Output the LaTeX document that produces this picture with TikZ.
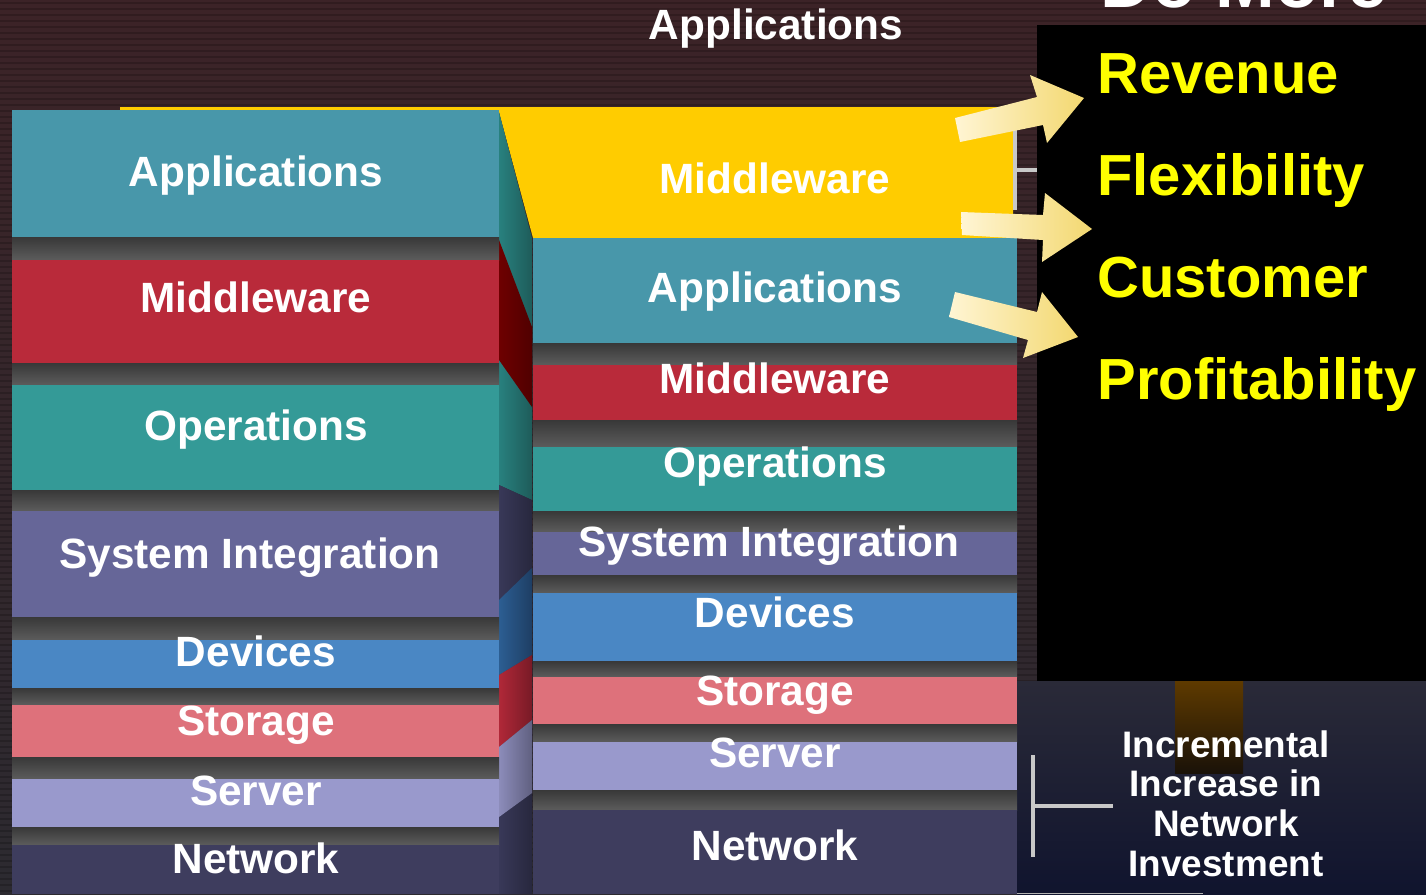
\documentclass[tikz,border=0pt]{standalone}
\usepackage{fontspec}
\setmainfont{Liberation Sans}
\definecolor{bgtop}{HTML}{3C2327}
\definecolor{bgbot}{HTML}{2C2A30}
\definecolor{appc}{HTML}{4897AA}
\definecolor{midc}{HTML}{B92A3A}
\definecolor{opc}{HTML}{349A97}
\definecolor{sic}{HTML}{666698}
\definecolor{devc}{HTML}{4A87C4}
\definecolor{stoc}{HTML}{DE717B}
\definecolor{serc}{HTML}{9999CC}
\definecolor{netc}{HTML}{3E3D5E}
\definecolor{yelc}{HTML}{FFCC00}
\definecolor{gapc}{HTML}{5C5C5C}
\definecolor{gaptop}{HTML}{383838}
\definecolor{navytop}{HTML}{2A2A38}
\definecolor{navybot}{HTML}{10142E}
\definecolor{txtyel}{HTML}{FFFF00}
\definecolor{arrowpale}{HTML}{FFF5D4}
\definecolor{arrowdeep}{HTML}{F3D870}
\definecolor{bracketc}{HTML}{C8C8C8}
\tikzset{
  lbl/.style={text=white, font=\bfseries\fontsize{24.1}{26}\selectfont, inner sep=0pt, anchor=base},
  ylbl/.style={text=txtyel, font=\bfseries\fontsize{33}{36}\selectfont, inner sep=0pt, anchor=base west},
  gapband/.style={top color=gaptop, bottom color=gapc},
  stripe/.style={draw=black, opacity=0.18, line width=0.05cm},
  bracket/.style={draw=bracketc, line width=0.09cm},
  bigarrow/.style={left color=arrowpale, right color=arrowdeep},
}
\begin{document}
\begin{tikzpicture}[x=0.02cm,y=-0.02cm]
\clip (0,0) rectangle (1426,894);
% background
\shade[top color=bgtop, bottom color=bgbot] (0,0) rectangle (1426,894);
\foreach \yy in {3,9,...,894} \draw[stripe] (0,\yy) -- (1426,\yy);
% bottom right dark area
\shade[top color=navytop, bottom color=navybot] (1017,681) rectangle (1426,894);
\shade[top color={rgb,255:red,94;green,58;blue,0}, bottom color={rgb,255:red,26;green,18;blue,8}] (1175,681) rectangle (1243,773);
\draw[gray!60, line width=0.02cm] (1017,893) -- (1203,893);
% black panel
\fill[black] (1037,25) rectangle (1426,681);
% yellow middleware shape
\fill[yelc] (120,107) -- (1013,107) -- (1013,238) -- (533,238) -- (499,112) -- (120,112) -- cycle;
% ribbons between the columns
\shade[left color={rgb,255:red,40;green,128;blue,126}, middle color={rgb,255:red,58;green,160;blue,154}, right color={rgb,255:red,30;green,92;blue,90}]
  (499,112) -- (532,238) -- (532,500) -- (499,485) -- cycle;
\shade[left color={rgb,255:red,110;green,0;blue,0}, right color={rgb,255:red,80;green,0;blue,0}]
  (499,240) -- (532,327) -- (532,407) -- (499,360) -- cycle;
\shade[left color={rgb,255:red,56;green,56;blue,88}, middle color={rgb,255:red,64;green,63;blue,96}, right color={rgb,255:red,40;green,40;blue,62}]
  (499,485) -- (532,500) -- (532,894) -- (499,894) -- cycle;
\shade[left color={rgb,255:red,44;green,94;blue,146}, middle color={rgb,255:red,50;green,106;blue,160}, right color={rgb,255:red,30;green,62;blue,100}]
  (499,600) -- (532,568) -- (532,655) -- (499,675) -- cycle;
\shade[left color={rgb,255:red,176;green,40;blue,56}, middle color={rgb,255:red,186;green,42;blue,58}, right color={rgb,255:red,120;green,26;blue,38}]
  (499,675) -- (532,655) -- (532,720) -- (499,747) -- cycle;
\shade[left color={rgb,255:red,140;green,140;blue,186}, middle color={rgb,255:red,154;green,154;blue,203}, right color={rgb,255:red,96;green,96;blue,128}]
  (499,747) -- (532,720) -- (532,793) -- (499,817) -- cycle;
% left column
\fill[appc] (12,110) rectangle (499,237);
\shade[gapband] (12,237) rectangle (499,260);
\fill[midc] (12,260) rectangle (499,363);
\shade[gapband] (12,363) rectangle (499,385);
\fill[opc] (12,385) rectangle (499,490);
\shade[gapband] (12,490) rectangle (499,511);
\fill[sic] (12,511) rectangle (499,617);
\shade[gapband] (12,617) rectangle (499,640);
\fill[devc] (12,640) rectangle (499,688);
\shade[gapband] (12,688) rectangle (499,705);
\fill[stoc] (12,705) rectangle (499,757);
\shade[gapband] (12,757) rectangle (499,779);
\fill[serc] (12,779) rectangle (499,827);
\shade[gapband] (12,827) rectangle (499,845);
\fill[netc] (12,845) rectangle (499,894);
% right column
\fill[appc] (533,238) rectangle (1017,343);
\shade[gapband] (533,343) rectangle (1017,365);
\fill[midc] (533,365) rectangle (1017,420);
\shade[gapband] (533,420) rectangle (1017,447);
\fill[opc] (533,447) rectangle (1017,511);
\shade[gapband] (533,511) rectangle (1017,532);
\fill[sic] (533,532) rectangle (1017,575);
\shade[gapband] (533,575) rectangle (1017,593);
\fill[devc] (533,593) rectangle (1017,661);
\shade[gapband] (533,661) rectangle (1017,677);
\fill[stoc] (533,677) rectangle (1017,724);
\shade[gapband] (533,724) rectangle (1017,742);
\fill[serc] (533,742) rectangle (1017,790);
\shade[gapband] (533,790) rectangle (1017,810);
\fill[netc] (533,810) rectangle (1017,894);
% brackets
\draw[bracket] (1015,130) -- (1015,210);
\draw[bracket] (1015,170) -- (1037,170);
\draw[bracket] (1033,755) -- (1033,857);
\draw[bracket] (1033,806) -- (1113,806);
% arrows
\shade[bigarrow] (955,118) -- (1037,97) -- (1030,75) -- (1084,98) -- (1047,143) -- (1043,125) -- (960,142) -- cycle;
\shade[bigarrow] (961,212) -- (1043,215) -- (1045,193) -- (1092,229) -- (1042,262) -- (1043,240) -- (962,235) -- cycle;
\shade[bigarrow] (955,292) -- (1037,312) -- (1042,292) -- (1078,337) -- (1023,358) -- (1028,340) -- (949,317) -- cycle;
% left labels
\node[lbl] (lapp) at (256,186) {Applications};
\node[lbl] (lmid) at (256,312) {Middleware};
\node[lbl] (lops) at (256,440) {Operations};
\node[lbl] (lsi)  at (250,568) {System Integration};
\node[lbl] (ldev) at (256,666) {Devices};
\node[lbl] (lsto) at (256,735) {Storage};
\node[lbl] (lser) at (256,805) {Server};
\node[lbl] (lnet) at (256,873) {Network};
% right labels
\node[lbl] (rtop) at (776,39) {Applications};
\node[lbl] (rmidy) at (775,193) {Middleware};
\node[lbl] (rapp) at (775,302) {Applications};
\node[lbl] (rmid) at (775,393) {Middleware};
\node[lbl] (rops) at (775,477) {Operations};
\node[lbl] (rsi)  at (769,556) {System Integration};
\node[lbl] (rdev) at (775,627) {Devices};
\node[lbl] (rsto) at (775,705) {Storage};
\node[lbl] (rser) at (775,767) {Server};
\node[lbl] (rnet) at (775,860) {Network};
% yellow benefits
\node[text=white, font=\bfseries\fontsize{40.8}{44}\selectfont, inner sep=0pt, anchor=base west] (domore) at (1100,7) {Do More};
\node[ylbl] (rev)  at (1097,93)  {Revenue};
\node[ylbl] (flex) at (1097,195) {Flexibility};
\node[ylbl] (cust) at (1097,297) {Customer};
\node[ylbl] (prof) at (1097,399) {Profitability};
% incremental text
\node[text=white, font=\bfseries\fontsize{21}{22.7}\selectfont, align=center, inner sep=0pt, anchor=north] (incr) at (1226,730)
  {Incremental\\Increase in\\Network\\Investment};
\end{tikzpicture}
\end{document}
